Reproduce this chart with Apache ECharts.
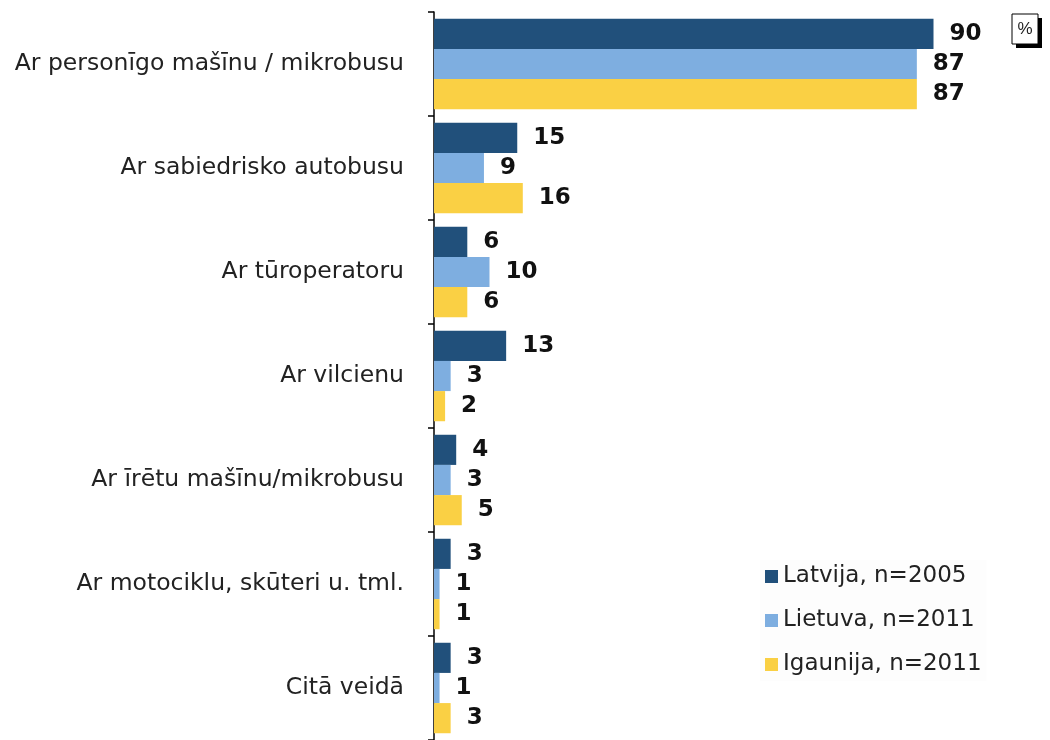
<!DOCTYPE html>
<html>
<head>
<meta charset="utf-8">
<script src="https://cdn.jsdelivr.net/npm/echarts@6/dist/echarts.min.js"></script>
<style>
  html, body { margin: 0; padding: 0; background: #fff; }
  #main { width: 1050px; height: 740px; }
</style>
</head>
<body>
<div id="main"></div>
<script>
// kategorijas (no augšas uz leju)
var categories = [
    'Ar personīgo mašīnu / mikrobusu',
    'Ar sabiedrisko autobusu',
    'Ar tūroperatoru',
    'Ar vilcienu',
    'Ar īrētu mašīnu/mikrobusu',
    'Ar motociklu, skūteri u. tml.',
    'Citā veidā'
];
var seriesNames = ['Latvija, n=2005', 'Lietuva, n=2011', 'Igaunija, n=2011'];
var latvija = [90, 15, 6, 13, 4, 3, 3];
var lietuva = [87, 9, 10, 3, 3, 1, 1];
var igaunija = [87, 16, 6, 2, 5, 1, 3];

var colors = ['#21507b', '#7eaee0', '#fad044'];
var font = '"DejaVu Sans", Arial, sans-serif';

var chart = echarts.init(document.getElementById('main'));

function makeSeries(name, data, color) {
    return {
        name: name,
        type: 'bar',
        data: data,
        barGap: '0%',
        barCategoryGap: '13%',
        itemStyle: {color: color},
        label: {
            show: true,
            position: 'right',
            distance: 16,
            color: '#111',
            fontFamily: font,
            fontWeight: 'bold',
            fontSize: 23
        }
    };
}

chart.setOption({
    animation: false,
    grid: {left: 434, right: 61, top: 12, bottom: 0},
    xAxis: {
        type: 'value',
        min: 0,
        max: 100,
        show: false
    },
    yAxis: {
        type: 'category',
        data: categories,
        inverse: true,
        axisLine: {lineStyle: {color: '#000', width: 1.5}},
        axisTick: {show: true, length: 6, lineStyle: {color: '#000', width: 1.5}},
        axisLabel: {
            margin: 30,
            color: '#222',
            fontFamily: font,
            fontSize: 23.5
        }
    },
    legend: {
        data: seriesNames,
        orient: 'vertical',
        left: 760,
        top: 560,
        itemWidth: 13,
        itemHeight: 13,
        itemGap: 21,
        icon: 'rect',
        backgroundColor: '#fdfdfd',
        textStyle: {color: '#222', fontFamily: font, fontSize: 23}
    },
    // rāmītis ar %
    graphic: [{
        type: 'rect',
        shape: {x: 1016, y: 18, width: 26, height: 30},
        style: {fill: '#000'}
    }, {
        type: 'rect',
        shape: {x: 1012, y: 14, width: 26, height: 30},
        style: {fill: '#fff', stroke: '#000', lineWidth: 1}
    }, {
        type: 'text',
        x: 1025,
        y: 29,
        style: {
            text: '%', fill: '#222', font: '17px Arial, "Liberation Sans", sans-serif',
            align: 'center', verticalAlign: 'middle'
        }
    }],
    series: [
        makeSeries(seriesNames[0], latvija, colors[0]),
        makeSeries(seriesNames[1], lietuva, colors[1]),
        makeSeries(seriesNames[2], igaunija, colors[2])
    ]
});
</script>
</body>
</html>
